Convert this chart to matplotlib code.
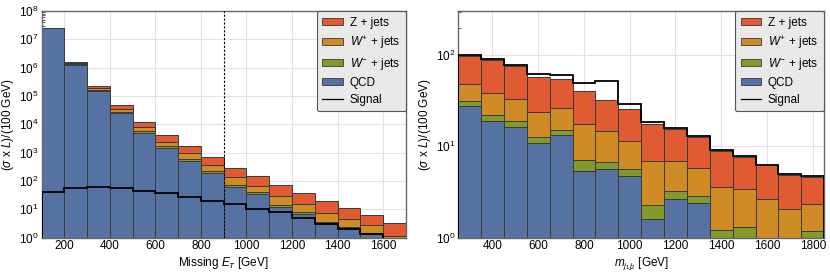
import numpy as np
import matplotlib
matplotlib.use('Agg')
import matplotlib.pyplot as plt
from matplotlib.patches import Patch
from matplotlib.lines import Line2D

plt.rcParams['font.family'] = ['Liberation Sans', 'DejaVu Sans']
plt.rcParams['mathtext.fontset'] = 'custom'
plt.rcParams['mathtext.it'] = 'Liberation Sans:italic'
plt.rcParams['mathtext.rm'] = 'Liberation Sans'

# left panel: missing ET, bins of 100 GeV from 100 to 1700
met_edges = np.arange(100, 1701, 100)
met_qcd = [2.45e7, 1.23e6, 1.45e5, 2.5e4, 5.0e3, 1450, 525, 194, 60, 35, 12.4, 6.7, 3.3, 2.1, 1.4, 0.5]
met_wminus = [1.5e4, 8e4, 1.5e4, 3e3, 900, 200, 65, 34, 13, 6, 2.3, 1.2, 0.4, 0.2, 0.1, 0.3]
met_wplus = [3e4, 1.7e5, 3e4, 7e3, 2.2e3, 800, 370, 132, 63, 28, 14.3, 7.1, 3.8, 2.2, 1.2, 0.3]
met_z = [4e4, 1.0e5, 3.4e4, 1.3e4, 3.9e3, 1750, 690, 330, 154, 79, 42, 22, 12.5, 6.5, 3.8, 2.3]
met_signal = [40, 57, 60, 56, 46, 37, 28, 20, 15, 10.6, 7.9, 5.1, 3.0, 2.0, 1.35, 0.9]
met_cut = 900

# right panel: dijet mass, bins of 100 GeV from 250 to 1850
mjj_edges = np.arange(250, 1851, 100)
mjj_qcd = [28, 19, 16.2, 10.8, 13.2, 5.4, 5.65, 4.7, 1.6, 2.63, 2.38, 0.5, 0.5, 0.3, 0.3, 0.6]
mjj_wminus = [3, 3, 2.6, 1.9, 1.9, 1.6, 1.15, 0.95, 0.66, 0.57, 0.48, 0.7, 0.8, 0.5, 0.5, 0.57]
mjj_wplus = [17, 16, 13.8, 11.3, 11.4, 10.5, 7.8, 5.85, 4.64, 3.7, 2.94, 2.4, 2.1, 1.83, 1.26, 1.15]
mjj_z = [49, 51, 43.4, 34, 28.5, 23.2, 17.4, 14, 10.7, 8.7, 6.9, 5.3, 4.25, 3.57, 2.8, 2.28]
mjj_signal = [101, 91, 78.5, 61.6, 60.5, 50, 52.5, 29.4, 18.4, 16.0, 13.0, 9.1, 7.8, 6.3, 4.95, 4.7]

labels = ['QCD', '$W^{-}$ + jets', '$W^{+}$ + jets', 'Z + jets']
colors = ['#5672a3', '#82992b', '#cf8c25', '#e05b34']
edge_col = '#3a3a3a'
frame_col = '#666666'


def draw_panel(ax, edges, comps, signal, xlim, ylim, xlabel, xticks):
    left = edges[:-1]
    width = np.diff(edges)
    bottom = np.zeros(len(left))
    for vals, col in zip(comps, colors):
        vals = np.asarray(vals, dtype=float)
        ax.bar(left, vals, width=width, bottom=bottom, align='edge',
               color=col, edgecolor=edge_col, linewidth=0.7, zorder=2)
        bottom = bottom + vals
    ax.stairs(signal, edges, color='black', linewidth=1.3, zorder=3)
    ax.set_yscale('log')
    ax.set_xlim(*xlim)
    ax.set_ylim(*ylim)
    ax.set_xticks(xticks)
    ax.set_xlabel(xlabel, fontsize=8.5, labelpad=2)
    ax.set_ylabel(r'($\sigma$ x $L$)/(100 GeV)', fontsize=8.5, labelpad=2)
    ax.grid(True, which='major', color='#e3e3e3', linewidth=0.8, zorder=0)
    ax.set_axisbelow(True)
    ax.tick_params(which='both', direction='in', labelsize=8.5, top=False, right=False,
                   color='#444444', pad=2)
    ax.tick_params(which='major', length=3.5)
    ax.tick_params(which='minor', length=2)
    ax.xaxis.set_minor_locator(matplotlib.ticker.MultipleLocator(100))
    for s in ax.spines.values():
        s.set_color(frame_col)
        s.set_linewidth(1.0)

    handles = [Patch(facecolor=colors[i], edgecolor=edge_col, linewidth=0.6, label=labels[i])
               for i in [3, 2, 1, 0]]
    handles.append(Line2D([], [], color='black', linewidth=0.9, label='Signal'))
    leg = ax.legend(handles=handles, loc='upper right', bbox_to_anchor=(1.0, 1.0),
                    borderaxespad=0.0, fontsize=8.5, fancybox=True, framealpha=1,
                    handlelength=1.75, handleheight=0.6, handletextpad=0.55,
                    labelspacing=0.42, borderpad=0.5)
    leg.get_frame().set_facecolor('#e9e9e9')
    leg.get_frame().set_edgecolor('#555555')
    leg.get_frame().set_linewidth(0.8)
    leg.set_zorder(5)


fig = plt.figure(figsize=(8.3, 2.75), dpi=100)
ax1 = fig.add_axes([0.050, 0.136, 0.439, 0.824])
ax2 = fig.add_axes([0.552, 0.136, 0.441, 0.824])

draw_panel(ax1, met_edges, [met_qcd, met_wminus, met_wplus, met_z], met_signal,
           (100, 1700), (1, 1e8), 'Missing $E_T$ [GeV]', np.arange(200, 1601, 200))
ax1.axvline(met_cut, color='black', linestyle=(0, (2, 1.5)), linewidth=0.8, zorder=4)
ax1.set_yticks([10.0**k for k in range(0, 9)])

draw_panel(ax2, mjj_edges, [mjj_qcd, mjj_wminus, mjj_wplus, mjj_z], mjj_signal,
           (250, 1850), (1, 304), '$m_{j_1 j_2}$ [GeV]', np.arange(400, 1801, 200))

fig.savefig('out.png', dpi=100)
